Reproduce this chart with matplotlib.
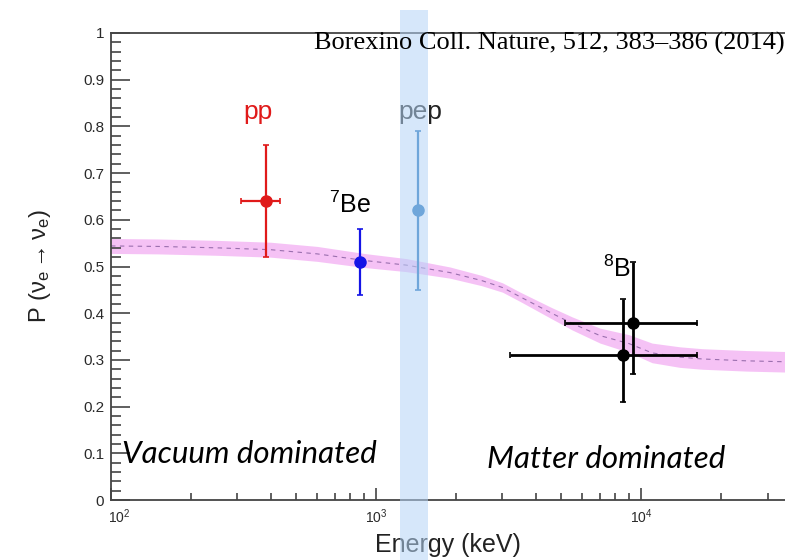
import matplotlib
matplotlib.use("Agg")
import matplotlib.pyplot as plt
import matplotlib.transforms as mtransforms
from matplotlib.ticker import FixedLocator, FuncFormatter, LogLocator, NullFormatter
import numpy as np

plt.rcParams["font.family"] = ["Liberation Sans", "DejaVu Sans"]
plt.rcParams["mathtext.fontset"] = "custom"
plt.rcParams["mathtext.rm"] = "Liberation Sans"
plt.rcParams["mathtext.it"] = "Liberation Sans"
plt.rcParams["mathtext.bf"] = "Liberation Sans:bold"

# MSW-LMA survival probability band (keV, P, half width)
msw_energy = [100, 150, 250, 400, 600, 900, 1300, 1900, 2500, 3000, 3500, 4600,
              5500, 7000, 9000, 11000, 14000, 17000, 25000, 35000]
msw_prob = [0.544, 0.543, 0.540, 0.536, 0.527, 0.513, 0.503, 0.487, 0.470, 0.455,
            0.435, 0.400, 0.378, 0.352, 0.335, 0.315, 0.306, 0.302, 0.298, 0.296]
msw_halfwidth = [0.016, 0.016, 0.016, 0.016, 0.016, 0.015, 0.014, 0.012, 0.011, 0.010,
                 0.010, 0.012, 0.014, 0.016, 0.019, 0.021, 0.022, 0.022, 0.022, 0.022]

# measurements: energy (keV), P, asymmetric errors
names = ["pp", "7Be", "pep", "8B", "8B"]
energy = [385, 871, 1440, 9310, 8550]
energy_lo = [310, 871, 1440, 5165, 3210]
energy_hi = [434, 871, 1440, 16260, 16260]
prob = [0.64, 0.51, 0.62, 0.38, 0.31]
prob_lo = [0.52, 0.44, 0.45, 0.27, 0.21]
prob_hi = [0.76, 0.58, 0.79, 0.51, 0.43]
colors = ["#e01a1a", "#1414e6", "#6fa6da", "black", "black"]

# pep energy window
pep_window = (1231, 1570)

fig = plt.figure(figsize=(7.85, 5.6), dpi=100)
ax = fig.add_axes([111 / 785, 60 / 560, 674 / 785, 467 / 560])
ax.set_xscale("log")
ax.set_xlim(100, 10 ** 4.543)
ax.set_ylim(0, 1)

e = np.array(msw_energy)
p = np.array(msw_prob)
hw = np.array(msw_halfwidth)
ax.fill_between(e, p - hw, p + hw, color="#f2a8f2", alpha=0.7, lw=0, zorder=1)
ax.plot(e, p, color="#9a6fae", lw=0.8, ls=(0, (4, 4)), zorder=1.5)

for i in range(len(names)):
    xe = [[energy[i] - energy_lo[i]], [energy_hi[i] - energy[i]]]
    ye = [[prob[i] - prob_lo[i]], [prob_hi[i] - prob[i]]]
    has_x = energy_hi[i] != energy_lo[i]
    ax.errorbar([energy[i]], [prob[i]], xerr=xe if has_x else None, yerr=ye,
                fmt="o", color=colors[i], ms=8, elinewidth=2 if colors[i] == "black" else 1.6,
                capsize=2, capthick=1.2, zorder=4)

ax.axvspan(pep_window[0], pep_window[1], ymin=-0.13, ymax=1.05, clip_on=False,
           color="#b5d5f7", alpha=0.55, lw=0, zorder=3)

# source labels
ax.text(385 * 0.93, 0.815, "pp", color="#e01a1a", fontsize=19, ha="center", va="baseline", zorder=2)
ax.text(1470, 0.815, "pep", color="#222222", fontsize=19, ha="center", va="baseline", zorder=2)
ax.text(800, 0.615, "$^{7}$Be", color="black", fontsize=18, ha="center", va="baseline", zorder=2)
ax.text(8100, 0.478, "$^{8}$B", color="black", fontsize=18, ha="center", va="baseline", zorder=2)

ax.text(1.0, 0.964, "Borexino Coll. Nature, 512, 383\u2013386 (2014)", transform=ax.transAxes,
        ha="right", va="baseline", fontsize=19, family=["Liberation Serif", "DejaVu Serif"])

reg_font = dict(fontsize=22.5, style="italic", family=["Lato", "DejaVu Sans"], va="baseline")
ax.text(0.017, 0.079, "Vacuum dominated", transform=ax.transAxes, ha="left", **reg_font)
ax.text(0.558, 0.068, "Matter dominated", transform=ax.transAxes, ha="left", **reg_font)

# axes styling
ax.spines["right"].set_visible(False)
for s in ["left", "bottom", "top"]:
    ax.spines[s].set_color("#444444")
    ax.spines[s].set_linewidth(1.3)

ax.yaxis.set_major_locator(FixedLocator(np.arange(0, 1.01, 0.1)))
ax.yaxis.set_minor_locator(FixedLocator(np.arange(0, 1.001, 0.02)))
ax.yaxis.set_major_formatter(FuncFormatter(lambda v, pos: "0" if abs(v) < 1e-9 else ("1" if abs(v - 1) < 1e-9 else "%.1f" % v)))
ax.xaxis.set_major_locator(LogLocator(base=10, numticks=10))
ax.xaxis.set_minor_locator(LogLocator(base=10, subs=np.arange(2, 10), numticks=20))
ax.xaxis.set_minor_formatter(NullFormatter())

ax.tick_params(axis="y", which="major", direction="in", length=14, width=1.2, color="#444444",
               labelsize=11, labelcolor="#2a2a2a", pad=5)
ax.tick_params(axis="y", which="minor", direction="in", length=7, width=1.2, color="#444444")
ax.tick_params(axis="x", which="major", direction="in", length=9, width=1.2, color="#444444",
               labelsize=10, labelcolor="#2a2a2a", pad=5)
ax.tick_params(axis="x", which="minor", direction="in", length=5, width=1.2, color="#444444")

ax.set_xlabel("Energy (keV)", fontsize=18, color="#222222")
ax.xaxis.set_label_coords(0.5, -0.096)
ax.xaxis.label.set_va("center")
ax.set_ylabel(r"P $(\nu_{e} \rightarrow \nu_{e})$", fontsize=17, color="#222222")
ax.yaxis.set_label_coords(-0.105, 0.5)
ax.yaxis.label.set_va("center")

# nudge the first decade label off the corner so it clears the "0"
fig.canvas.draw()
for lab in ax.get_xticklabels():
    if lab.get_position()[0] == 100:
        lab.set_transform(lab.get_transform() + mtransforms.ScaledTranslation(6 / 72, 0, fig.dpi_scale_trans))

fig.savefig("out.png", dpi=100)
